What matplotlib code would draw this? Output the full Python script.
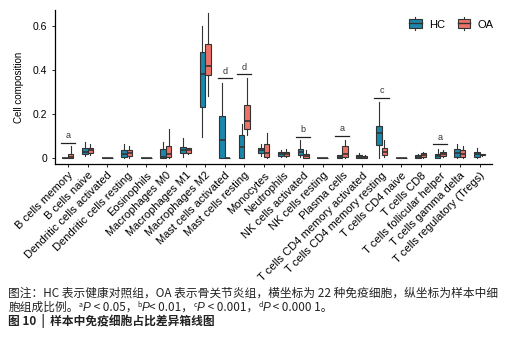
import matplotlib
matplotlib.use("Agg")
import matplotlib.pyplot as plt
from matplotlib.legend_handler import HandlerBase
from matplotlib.patches import Rectangle
from matplotlib.lines import Line2D

cells = ["B cells memory", "B cells naive", "Dendritic cells activated", "Dendritic cells resting",
         "Eosinophils", "Macrophages M0", "Macrophages M1", "Macrophages M2",
         "Mast cells activated", "Mast cells resting", "Monocytes", "Neutrophils",
         "NK cells activated", "NK cells resting", "Plasma cells", "T cells CD4 memory activated",
         "T cells CD4 memory resting", "T cells CD4 naive", "T cells CD8", "T cells follicular helper",
         "T cells gamma delta", "T cells regulatory (Tregs)"]

# HC group (quartiles and whisker ends)
hc_lo  = [0, 0.010, 0, 0.000, 0, 0.000, 0.005, 0.097, 0, 0, 0.010, 0.005, 0.005, 0, 0, 0, 0, 0, 0, 0, 0, 0.000]
hc_q1  = [0, 0.020, 0, 0.005, 0, 0.000, 0.025, 0.230, 0, 0, 0.025, 0.010, 0.014, 0, 0, 0, 0.060, 0, 0, 0, 0.005, 0.005]
hc_med = [0, 0.030, 0, 0.020, 0, 0.005, 0.035, 0.380, 0.080, 0.050, 0.035, 0.020, 0.030, 0, 0.005, 0.005, 0.112, 0, 0.005, 0.008, 0.025, 0.020]
hc_q3  = [0, 0.045, 0, 0.035, 0, 0.040, 0.050, 0.483, 0.190, 0.107, 0.047, 0.030, 0.042, 0, 0.015, 0.015, 0.147, 0, 0.015, 0.020, 0.040, 0.030]
hc_hi  = [0, 0.075, 0, 0.065, 0, 0.075, 0.090, 0.600, 0.343, 0.155, 0.065, 0.035, 0.080, 0, 0.015, 0.025, 0.256, 0, 0.020, 0.040, 0.065, 0.045]

# OA group
oa_lo  = [0, 0.015, 0, 0.000, 0, 0.000, 0.020, 0.283, 0, 0.105, 0.000, 0.005, 0.000, 0, 0.000, 0, 0.005, 0, 0.000, 0.005, 0.000, 0.010]
oa_q1  = [0, 0.025, 0, 0.010, 0, 0.005, 0.025, 0.375, 0, 0.130, 0.005, 0.010, 0.000, 0, 0.005, 0, 0.014, 0, 0.005, 0.010, 0.005, 0.012]
oa_med = [0.003, 0.035, 0, 0.025, 0, 0.020, 0.035, 0.420, 0, 0.170, 0.025, 0.020, 0.010, 0, 0.020, 0.005, 0.030, 0, 0.015, 0.020, 0.020, 0.015]
oa_q3  = [0.020, 0.045, 0, 0.035, 0, 0.055, 0.045, 0.520, 0, 0.240, 0.062, 0.030, 0.020, 0, 0.055, 0.010, 0.048, 0, 0.025, 0.030, 0.035, 0.020]
oa_hi  = [0.055, 0.065, 0, 0.055, 0, 0.130, 0.045, 0.660, 0, 0.362, 0.115, 0.040, 0.035, 0, 0.082, 0.015, 0.080, 0, 0.030, 0.035, 0.055, 0.020]

sig_idx = [0, 8, 9, 12, 14, 16, 19]
sig_y = [0.068, 0.362, 0.380, 0.097, 0.100, 0.273, 0.062]
sig_label = ["a", "d", "d", "b", "a", "c", "a"]

hc_color = "#1a87ad"
oa_color = "#ee7266"
edge = "#333333"


def stats(lo, q1, med, q3, hi):
    return [dict(whislo=lo[i], q1=q1[i], med=med[i], q3=q3[i], whishi=hi[i], fliers=[]) for i in range(len(med))]


class BoxHandler(HandlerBase):
    # ggplot-like boxplot key: box with median line and short whiskers
    def create_artists(self, legend, orig, xd, yd, width, height, fontsize, trans):
        c = orig.get_facecolor()
        dy = -height * 0.25
        r = Rectangle((xd + width * 0.1, yd + dy + height * 0.1), width * 0.8, height * 0.8,
                      facecolor=c, edgecolor=edge, lw=0.8, transform=trans)
        m = Line2D([xd + width * 0.1, xd + width * 0.9], [yd + dy + height * 0.5] * 2, color=edge, lw=1.0, transform=trans)
        w1 = Line2D([xd + width * 0.5] * 2, [yd + dy - height * 0.1, yd + dy + height * 0.1], color=edge, lw=0.8, transform=trans)
        w2 = Line2D([xd + width * 0.5] * 2, [yd + dy + height * 0.9, yd + dy + height * 1.1], color=edge, lw=0.8, transform=trans)
        return [w1, w2, r, m]


plt.rcParams["font.family"] = ["Liberation Sans", "DejaVu Sans"]
fig = plt.figure(figsize=(5.16, 3.39), dpi=100)
ax = fig.add_axes([0.107, 0.516, 0.847, 0.455])

pos = list(range(1, len(cells) + 1))
w = 0.28
common = dict(widths=w, showcaps=False, showfliers=False, patch_artist=True,
              whiskerprops=dict(color=edge, lw=0.8),
              medianprops=dict(color=edge, lw=1.2),
              boxprops=dict(edgecolor=edge, lw=0.8))
b1 = ax.bxp(stats(hc_lo, hc_q1, hc_med, hc_q3, hc_hi), positions=[p - w / 2 for p in pos], **common)
b2 = ax.bxp(stats(oa_lo, oa_q1, oa_med, oa_q3, oa_hi), positions=[p + w / 2 for p in pos], **common)
for b in b1["boxes"]:
    b.set_facecolor(hc_color)
for b in b2["boxes"]:
    b.set_facecolor(oa_color)

for i, y, lab in zip(sig_idx, sig_y, sig_label):
    ax.plot([pos[i] - 0.36, pos[i] + 0.36], [y, y], color="#222222", lw=0.9)
    ax.text(pos[i], y + 0.012, lab, ha="center", va="bottom", fontsize=6.5, color="#333333")

ax.set_xlim(0.35, 22.65)
ax.set_ylim(-0.027, 0.673)
ax.set_yticks([0, 0.2, 0.4, 0.6])
ax.set_yticklabels(["0", "0.2", "0.4", "0.6"])
ax.set_xticks(pos)
ax.set_xticklabels(cells, rotation=45, ha="right", va="top", rotation_mode="anchor", fontsize=8)
ax.tick_params(axis="y", labelsize=7.5, length=2.5, width=0.6)
ax.tick_params(axis="x", length=2.5, width=0.6, pad=2)
ax.set_ylabel("Cell composition", fontsize=7, labelpad=6)
for s in ["top", "right"]:
    ax.spines[s].set_visible(False)
for s in ["left", "bottom"]:
    ax.spines[s].set_linewidth(0.9)

h1 = Rectangle((0, 0), 1, 1, facecolor=hc_color)
h2 = Rectangle((0, 0), 1, 1, facecolor=oa_color)
fig.legend([h1, h2], ["HC", "OA"], loc="upper right", bbox_to_anchor=(0.975, 0.975), ncol=2,
           frameon=False, fontsize=8, handlelength=1.4, handleheight=1.1, columnspacing=1.0,
           handletextpad=0.5, handler_map={Rectangle: BoxHandler()})

# caption
cjk = ["Noto Sans CJK SC", "DejaVu Sans"]
fs = 8.45
tc = "#222222"
x0 = 0.016
fig.text(x0, 1 - 297 / 339, "图注：HC 表示健康对照组，OA 表示骨关节炎组，横坐标为 22 种免疫细胞，纵坐标为样本中细",
         family=cjk, fontsize=fs, va="baseline", color=tc)

pieces = [("胞组成比例。", "n"), ("a", "s"), ("P", "i"), (" < 0.05，", "n"),
          ("b", "s"), ("P", "i"), ("< 0.01，", "n"), ("c", "s"), ("P", "i"),
          (" < 0.001，", "n"), ("d", "s"), ("P", "i"), (" < 0.000 1。", "n")]
renderer = fig.canvas.get_renderer()
fw = fig.get_figwidth() * fig.dpi
fh = fig.get_figheight() * fig.dpi
x = x0
y = 1 - 311 / 339
for txt, kind in pieces:
    if kind == "s":
        t = fig.text(x, y + 4 / fh, txt, family=cjk, fontsize=fs * 0.6, va="baseline", color=tc)
    elif kind == "i":
        t = fig.text(x, y, txt, family=["Liberation Sans"], style="italic", fontsize=fs, va="baseline", color=tc)
    else:
        t = fig.text(x, y, txt, family=cjk, fontsize=fs, va="baseline", color=tc)
    x += t.get_window_extent(renderer).width / fw

fig.text(x0, 1 - 325 / 339, "图 10  |  样本中免疫细胞占比差异箱线图", family=cjk, fontsize=fs,
         weight="bold", va="baseline", color=tc)

fig.savefig("out.png", dpi=100)
